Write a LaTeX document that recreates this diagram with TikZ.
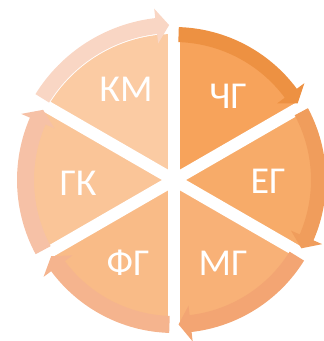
\documentclass[tikz,border=0pt]{standalone}
\usepackage{fontspec}
\setmainfont{Carlito}
\definecolor{kmfill}{HTML}{FBCBA3}
\definecolor{kmband}{HTML}{F9D6C4}
\definecolor{chgfill}{HTML}{F7A35B}
\definecolor{chgband}{HTML}{ED9142}
\definecolor{egfill}{HTML}{F7AB69}
\definecolor{egband}{HTML}{F09D5C}
\definecolor{mgfill}{HTML}{F8B177}
\definecolor{mgband}{HTML}{F3A573}
\definecolor{fgfill}{HTML}{F9BB87}
\definecolor{fgband}{HTML}{F5B48E}
\definecolor{gkfill}{HTML}{FAC598}
\definecolor{gkband}{HTML}{F6C1A6}
\begin{document}
\begin{tikzpicture}[x=1pt, y=1pt, every node/.style={font=\fontsize{38}{40}\selectfont, text=white}]
  \useasboundingbox (-174,-161) rectangle (150,180);
  \clip (-174,-161) rectangle (150,180);
  % sectors
  \foreach \a/\c in {150/kmfill, 90/chgfill, 30/egfill, -30/mgfill, -90/fgfill, -150/gkfill} {
    \fill[\c] (0,0) -- (\a:146) arc[start angle=\a, end angle=\a-60, radius=146] -- cycle;
  }
  % gaps between sectors
  \foreach \a in {90,30,...,-210} {
    \draw[white, line width=12pt] (0,0) -- (\a:180);
  }
  % curved arrows, clockwise
  \foreach \a/\ri/\ro/\c in {150/147/163/kmband, 90/138/153/chgband, 30/137/152/egband,
                             -30/136/153/mgband, -90/136/153/fgband, -150/140/157/gkband} {
    \pgfmathsetmacro{\rmid}{(\ri+\ro)/2}
    \fill[\c] ({\a-1.8}:\ro) arc[start angle=\a-1.8, end angle=\a-53.4, radius=\ro]
      -- ({\a-53.4}:{\ro+9.5}) -- ({\a-58.2}:\rmid) -- ({\a-53.4}:{\ri-9.5})
      -- ({\a-53.4}:\ri) arc[start angle=\a-53.4, end angle=\a-1.8, radius=\ri] -- cycle;
  }
  % labels
  \foreach \n/\x/\y/\t in {km/-48/91/КМ, chg/54/84/ЧГ, eg/94/-1/ЕГ,
                           mg/49/-83/МГ, fg/-46/-83/ФГ, gk/-96/-3/ГК} {
    \node (\n) at (\x,\y) {\t};
  }
\end{tikzpicture}
\end{document}
